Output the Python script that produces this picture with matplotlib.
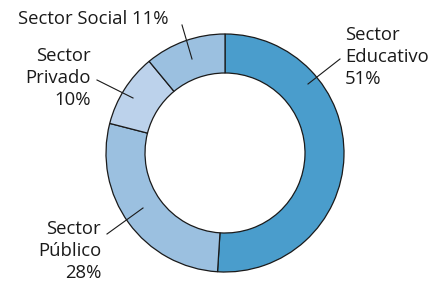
import matplotlib
matplotlib.use("Agg")
import matplotlib.pyplot as plt

categories = ["Sector Educativo", "Sector Público", "Sector Privado", "Sector Social"]
values = [51, 28, 10, 11]
labels = ["Sector\nEducativo\n51%", "Sector\nPúblico\n28%", "Sector\nPrivado\n10%", "Sector Social 11%"]
colors = ["#4a9dcc", "#9bc0e0", "#bcd2eb", "#9bc0e0"]

W, H = 434, 281
fig = plt.figure(figsize=(W / 100, H / 100), dpi=100)
ax = fig.add_axes([0, 0, 1, 1])

cx, cy = 225, H - 153
R, width = 119, 39
ax.pie(values, colors=colors, startangle=90, counterclock=False,
       center=(cx, cy), radius=R,
       wedgeprops=dict(width=width, edgecolor="#1a1a1a", linewidth=0.9))
ax.set_xlim(0, W)
ax.set_ylim(0, H)
ax.set_aspect("auto")
ax.axis("off")

font = dict(family="Open Sans", fontsize=13.3, color="#1a1a1a", linespacing=1.28)

# (text x, text y, ha, leader start, leader end) in pixel coords (y from top)
layout = {
    "Sector Educativo": (345, 57, "left", (340, 59), (308, 84)),
    "Sector Público": (101, 251, "right", (107, 234), (143, 208)),
    "Sector Privado": (91, 78, "right", (97, 80), (133, 98)),
    "Sector Social": (93, 19, "center", (182, 25), (192, 59)),
}
for cat, lab in zip(categories, labels):
    tx, ty, ha, p0, p1 = layout[cat]
    ax.text(tx, H - ty, lab, ha=ha, va="center", multialignment=ha, **font)
    ax.plot([p0[0], p1[0]], [H - p0[1], H - p1[1]], color="#1a1a1a", lw=0.8)

fig.savefig("out.png", dpi=100, facecolor="white")
